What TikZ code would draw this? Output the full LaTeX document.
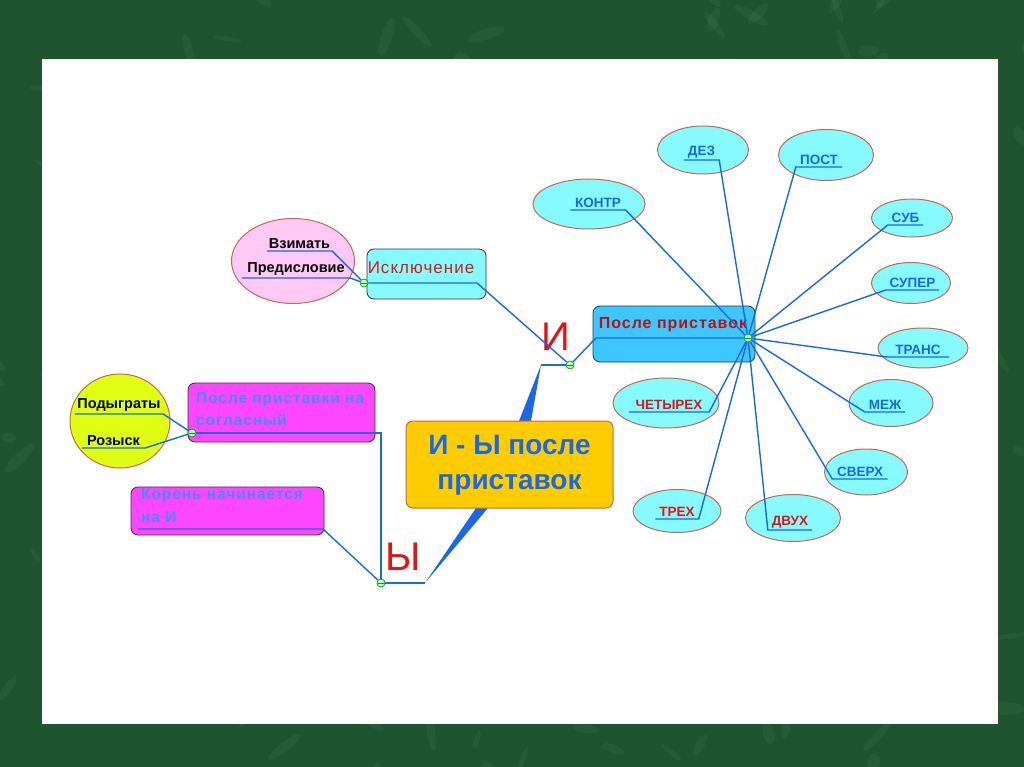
\documentclass[tikz,border=0pt]{standalone}
\usepackage{fontspec}
\setmainfont{Liberation Sans}
\newfontfamily\widefont[LetterSpace=6]{Liberation Sans}
\usetikzlibrary{shapes.geometric, positioning}

\definecolor{marble}{RGB}{30,84,46}
\definecolor{vein}{RGB}{90,150,100}
\definecolor{linkblue}{RGB}{25,105,230}
\definecolor{rim}{RGB}{200,105,75}
\definecolor{aqua}{RGB}{135,250,255}
\definecolor{skyblue}{RGB}{60,200,255}
\definecolor{violet}{RGB}{255,70,255}
\definecolor{softblue}{RGB}{70,135,255}
\definecolor{rose}{RGB}{255,200,245}
\definecolor{lime}{RGB}{222,255,20}
\definecolor{amber}{RGB}{255,204,0}
\definecolor{wordred}{RGB}{225,20,20}
\definecolor{jgreen}{RGB}{0,170,0}

\begin{document}
\begin{tikzpicture}[x=1pt, y=-1pt,
    link/.style={draw=linkblue, line width=1.4pt},
    oval/.style={ellipse, draw=rim, line width=1pt, fill=aqua, inner sep=0pt},
    tag/.style={anchor=south, inner xsep=0pt, inner ysep=2pt, font=\bfseries\fontsize{13.5}{15}\selectfont, text=linkblue},
    redtag/.style={tag, text=wordred},
    blacktag/.style={tag, text=black, font=\bfseries\fontsize{14.5}{16}\selectfont},
    card/.style={draw=black!80, rounded corners=7pt, line width=0.8pt},
    cardtext/.style={align=left, inner sep=0pt, font=\widefont\bfseries\fontsize{15.5}{22}\selectfont},
    jn/.style={circle, draw=jgreen, fill=green!20, line width=0.8pt, minimum size=8pt, inner sep=0pt,
        path picture={\draw[jgreen, line width=0.8pt] ([xshift=1pt]path picture bounding box.west) -- ([xshift=-1pt]path picture bounding box.east);}}
]
    % frame
    \useasboundingbox (0,0) rectangle (1024,767);
    \begin{scope}
        \clip (0,0) rectangle (1024,767);
        \fill[marble] (0,0) rectangle (1024,767);
        \pgfmathsetseed{11}
        \foreach \k in {1,...,500} {
            \fill[vein, opacity=0.13, rotate around={{180*rnd}:({1024*rnd},{767*rnd})}]
                ({1024*rnd},{767*rnd}) ellipse[x radius={6+16*rnd}, y radius={2+5*rnd}];
        }
        \fill[white] (42,59) rectangle (998,724);
    \end{scope}

    % ovals
    \node[oval, fill=rose, minimum width=123, minimum height=85] (excl) at (293,261) {};
    \node[oval, fill=lime, minimum width=100, minimum height=94] (cons) at (120,421) {};
    \node[oval, minimum width=112, minimum height=50] (kontr) at (589,204) {};
    \node[oval, minimum width=91, minimum height=48] (dez) at (703,150) {};
    \node[oval, minimum width=95, minimum height=51] (post) at (826,155) {};
    \node[oval, minimum width=81, minimum height=38] (sub) at (912,218) {};
    \node[oval, minimum width=79, minimum height=41] (super) at (911,283) {};
    \node[oval, minimum width=90, minimum height=40] (trans) at (923,348) {};
    \node[oval, minimum width=84, minimum height=47] (mezh) at (891,403) {};
    \node[oval, minimum width=83, minimum height=46] (sverh) at (866,472) {};
    \node[oval, minimum width=95, minimum height=47] (dvuh) at (793,518) {};
    \node[oval, minimum width=88, minimum height=43] (treh) at (677,511) {};
    \node[oval, minimum width=106, minimum height=50] (chet) at (666,403) {};

    % wedge to the centre
    \coordinate (wtop) at (541,365);
    \coordinate (wbot) at (425,583);
    \fill[linkblue] (wtop) -- (519,421) -- (476,508) -- (wbot) -- (488,508) -- (531,421) -- cycle;

    % boxes
    \node[card, fill=aqua, minimum width=119, minimum height=50] (exbox) at (426.5,274) {};
    \node[card, fill=skyblue, minimum width=162, minimum height=56] (prbox) at (674,334) {};
    \node[card, fill=violet, minimum width=187, minimum height=59] (sogbox) at (281.5,412.5) {};
    \node[card, fill=violet, minimum width=193, minimum height=48] (korbox) at (227.5,511) {};
    \node[card, draw=rim, fill=amber, line width=1pt, minimum width=207, minimum height=87] (main) at (509.5,464.5) {};

    % box texts
    \node[text=wordred, font=\widefont\fontsize{17}{19}\selectfont] (exT) at (421,268) {Исключение};
    \node[text=wordred!85!black, font=\widefont\bfseries\fontsize{16}{18}\selectfont] (prT) at (673,325) {После приставок};
    \node[cardtext, anchor=west, text=softblue] (sogT) at (196,409) {После приставки на\\согласный};
    \node[cardtext, anchor=west, text=softblue, font=\widefont\bfseries\fontsize{15.5}{23}\selectfont] (korT) at (141,505.5) {Корень начинается\\на И};
    \node[align=center, text=linkblue, font=\bfseries\fontsize{28}{35}\selectfont] (mainT) at (509.5,465.5) {И - Ы после\\приставок};
    \node[text=wordred, font=\fontsize{40}{42}\selectfont] (bigI) at (556,337) {И};
    \node[text=wordred, font=\fontsize{40}{42}\selectfont] (bigY) at (403,557) {Ы};

    % junctions
    \node[jn] (ex) at (364,283) {};
    \node[jn] (sog) at (192,433) {};
    \node[jn] (yj) at (381,583) {};
    \node[jn] (ij) at (570,365) {};
    \node[jn] (pj) at (748,338) {};

    % words
    \node[blacktag, minimum width=65] (vzim) at (299.5,251) {Взимать};
    \node[blacktag, minimum width=108] (pred) at (296,278) {Предисловие};
    \node[blacktag, minimum width=88] (podyg) at (119,414) {Подыграты};
    \node[blacktag, minimum width=63] (rozysk) at (113.5,448) {Розыск};
    \node[tag, minimum width=55] (kontrT) at (598,210) {КОНТР};
    \node[tag, minimum width=35] (dezT) at (701.5,160) {ДЕЗ};
    \node[tag, minimum width=46] (postT) at (819,167) {ПОСТ};
    \node[tag, minimum width=35] (subT) at (905.5,225) {СУБ};
    \node[tag, minimum width=53] (superT) at (912.5,290) {СУПЕР};
    \node[tag, minimum width=62] (transT) at (918,357) {ТРАНС};
    \node[tag, minimum width=40] (mezhT) at (885,412) {МЕЖ};
    \node[tag, minimum width=55] (sverhT) at (860,479) {СВЕРХ};
    \node[redtag, minimum width=44] (dvuhT) at (790,530) {ДВУХ};
    \node[redtag, minimum width=43] (trehT) at (677,519) {ТРЕХ};
    \node[redtag, minimum width=80] (chetT) at (669,412) {ЧЕТЫРЕХ};

    % links
    \coordinate (exend) at (477,283);
    \coordinate (prstart) at (596,338);
    \coordinate (sogend) at (381,433);
    \coordinate (korstart) at (138,529);
    \coordinate (korend) at (323,529);
    \draw[link] (vzim.south west) -- (vzim.south east) -- (ex);
    \draw[link] (pred.south west) -- (pred.south east) -- (ex);
    \draw[link] (ex) -- (exend) -- (ij);
    \draw[link] (ij) -- (prstart) -- (pj);
    \draw[link] (ij) -- (wtop);
    \draw[link] (wbot) -- (yj);
    \draw[link] (podyg.south west) -- (podyg.south east) -- (sog);
    \draw[link] (rozysk.south west) -- (rozysk.south east) -- (sog);
    \draw[link] (sog) -- (sogend) -- (yj);
    \draw[link] (korstart) -- (korend) -- (yj);
    \draw[link] (kontrT.south west) -- (kontrT.south east) -- (pj);
    \draw[link] (dezT.south west) -- (dezT.south east) -- (pj);
    \draw[link] (postT.south east) -- (postT.south west) -- (pj);
    \draw[link] (subT.south east) -- (subT.south west) -- (pj);
    \draw[link] (superT.south east) -- (superT.south west) -- (pj);
    \draw[link] (transT.south east) -- (transT.south west) -- (pj);
    \draw[link] (mezhT.south east) -- (mezhT.south west) -- (pj);
    \draw[link] (sverhT.south east) -- (sverhT.south west) -- (pj);
    \draw[link] (dvuhT.south east) -- (dvuhT.south west) -- (pj);
    \draw[link] (trehT.south west) -- (trehT.south east) -- (pj);
    \draw[link] (chetT.south west) -- (chetT.south east) -- (pj);
\end{tikzpicture}
\end{document}
